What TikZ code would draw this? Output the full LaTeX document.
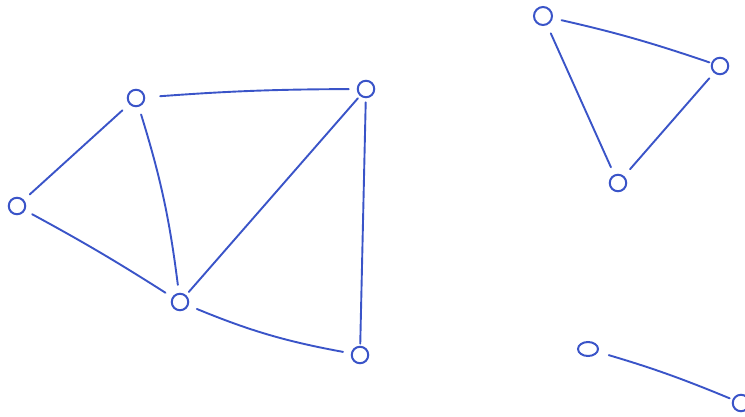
\documentclass[tikz,border=0pt]{standalone}
\usetikzlibrary{shapes.geometric}
\definecolor{ink}{RGB}{58,84,200}
\begin{document}
\begin{tikzpicture}[x=1pt,y=-1pt,
  vtx/.style={draw=ink,line width=2pt,circle,minimum size=16.5pt,inner sep=0pt},
  edge/.style={draw=ink,line width=1.9pt,line cap=round,shorten <=8pt,shorten >=8pt}]
\useasboundingbox (0,0) rectangle (745,416);
\node[vtx] (A) at (136,98) {};
\node[vtx] (B) at (366,89) {};
\node[vtx] (C) at (17,206) {};
\node[vtx] (D) at (180,302) {};
\node[vtx] (E) at (360,355) {};
\node[vtx,minimum size=18pt] (F) at (543,16) {};
\node[vtx] (G) at (720,66) {};
\node[vtx] (H) at (618,183) {};
\node[vtx,ellipse,minimum width=20pt,minimum height=14pt] (I) at (588,349) {};
\node[vtx] (J) at (741,403) {};
\draw[edge,shorten <=15pt,shorten >=8pt] (A) to[bend left=2] (B);
\draw[edge,shorten <=9pt] (A) -- (C);
\draw[edge] (A) to[bend left=5] (D);
\draw[edge] (C) to[bend left=2] (D);
\draw[edge,shorten <=4pt,shorten >=3pt] (D) -- (B);
\draw[edge,shorten >=2pt,shorten <=4pt] (B) -- (E);
\draw[edge,shorten <=9pt] (D) to[bend right=6] (E);
\draw[edge,shorten <=9pt,shorten >=2pt] (F) to[bend left=3] (G);
\draw[edge,shorten <=9pt] (F) to (H);
\draw[edge,shorten <=7pt,shorten >=9pt] (G) -- (H);
\draw[edge,shorten <=11pt,shorten >=3pt] (I) to[bend left=3] (J);
\end{tikzpicture}
\end{document}
